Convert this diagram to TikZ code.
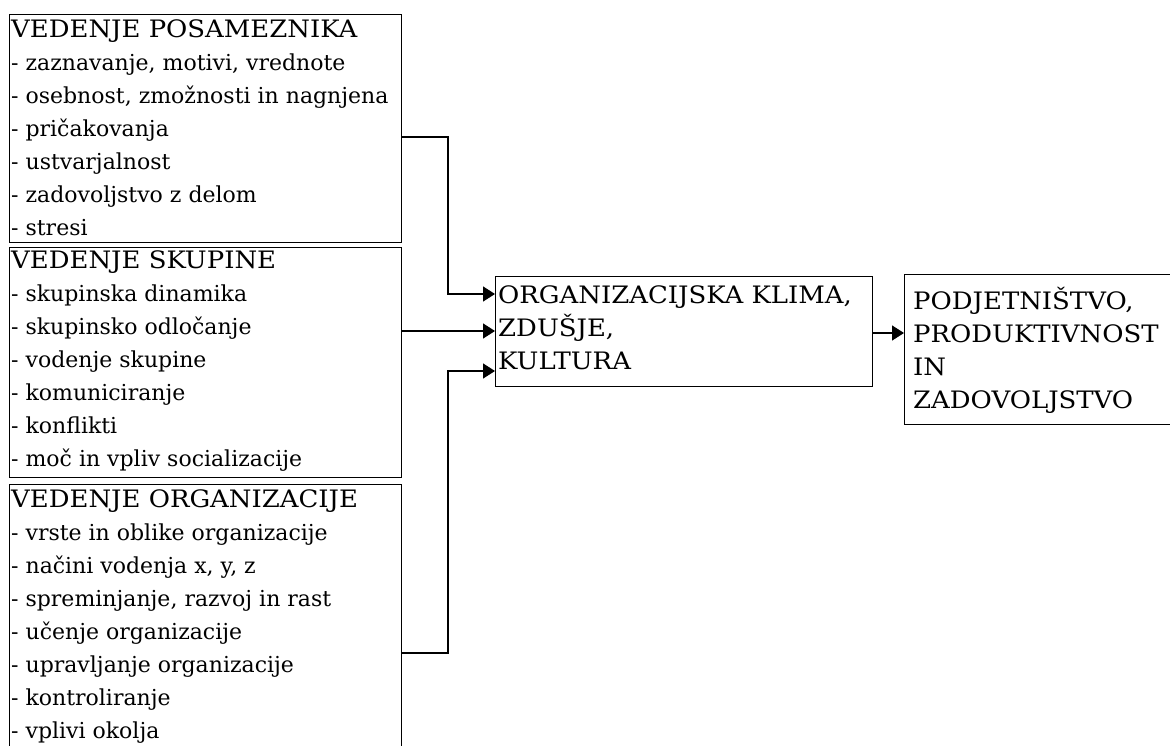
\documentclass[tikz,border=0pt]{standalone}
\usepackage{fontspec}
\setmainfont{DejaVu Serif}
\newfontfamily\titlefont[FakeStretch=1.08]{DejaVu Serif}
\usetikzlibrary{arrows.meta}
\newcommand{\ttl}[1]{{\titlefont\fontsize{24}{33}\selectfont #1}}
\newcommand{\fl}{\rule{0pt}{20pt}}
\begin{document}
\begin{tikzpicture}[x=1pt,y=-1pt,
  box/.style={draw=black,line width=1.3pt,inner sep=0pt,anchor=north west,fill=none},
  txt/.style={inner sep=0pt,anchor=north west,align=left,font=\fontsize{22}{33}\selectfont},
  conn/.style={line width=1.3pt,-{Triangle[length=12pt,width=15pt]}}]
\useasboundingbox (0,0) rectangle (1170,746);
\clip (0,0) rectangle (1170,746);
% boxes
\node[box,minimum width=392pt,minimum height=228pt] (b1) at (9,14) {};
\node[box,minimum width=392pt,minimum height=230pt] (b2) at (9,247) {};
\node[box,minimum width=392pt,minimum height=300pt] (b3) at (9,484) {};
\node[box,minimum width=377pt,minimum height=110pt] (b4) at (495,276) {};
\node[box,minimum width=300pt,minimum height=150pt] (b5) at (904,274) {};
% texts (first baseline = y + 20)
\node[txt] (t1) at (11,17) {\fl\ttl{VEDENJE POSAMEZNIKA}\\- zaznavanje, motivi, vrednote\\- osebnost, zmožnosti in nagnjena\\- pričakovanja\\- ustvarjalnost\\- zadovoljstvo z delom\\- stresi};
\node[txt] (t2) at (11,248) {\fl\ttl{VEDENJE SKUPINE}\\- skupinska dinamika\\- skupinsko odločanje\\- vodenje skupine\\- komuniciranje\\- konflikti\\- moč in vpliv socializacije};
\node[txt] (t3) at (11,487) {\fl\ttl{VEDENJE ORGANIZACIJE}\\- vrste in oblike organizacije\\- načini vodenja x, y, z\\- spreminjanje, razvoj in rast\\- učenje organizacije\\- upravljanje organizacije\\- kontroliranje\\- vplivi okolja};
\node[txt] (t4) at (498,283) {\fl\ttl{ORGANIZACIJSKA KLIMA,}\\\ttl{ZDUŠJE,}\\\ttl{KULTURA}};
\node[txt] (t5) at (913,287) {\fl\ttl{PODJETNIŠTVO,}\\\ttl{PRODUKTIVNOST}\\\ttl{IN}\\\ttl{ZADOVOLJSTVO}};
% connectors
\coordinate (k1) at (448,137);
\coordinate (k3) at (448,371);
\draw[conn] (b1.east |- k1) -| (k1) |- (b4.west |- 0,294);
\draw[conn] (b2.east |- 0,331) -- (b4.west |- 0,331);
\draw[conn] (b3.east |- 0,653) -| (k3) |- (b4.west |- 0,371);
\draw[conn] (b4.east |- 0,333) -- (b5.west |- 0,333);
\end{tikzpicture}
\end{document}
